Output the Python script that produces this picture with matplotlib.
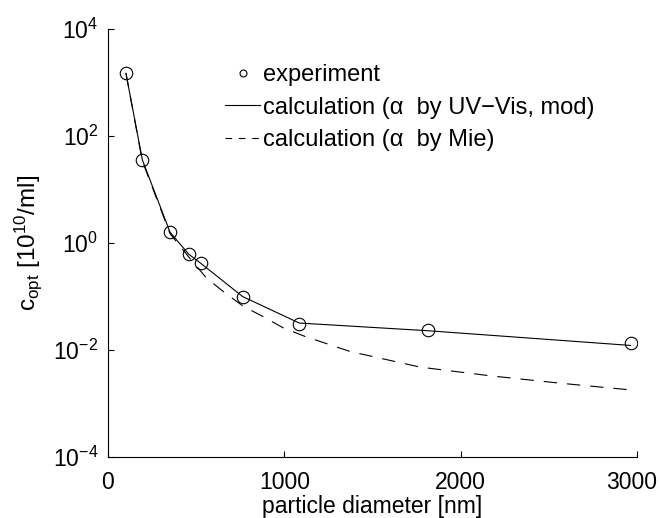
import matplotlib
matplotlib.use("Agg")
import matplotlib.pyplot as plt
import matplotlib.transforms as mtransforms
from matplotlib.lines import Line2D
from matplotlib.ticker import LogLocator, NullLocator

plt.rcParams['font.family'] = ['Liberation Sans', 'DejaVu Sans']
plt.rcParams['mathtext.fontset'] = 'custom'
plt.rcParams['mathtext.rm'] = 'Liberation Sans'
plt.rcParams['mathtext.it'] = 'Liberation Sans:italic'

# experiment
exp_d = [102, 195, 352, 458, 526, 764, 1085, 1813, 2964]
exp_c = [1500, 36, 1.6, 0.63, 0.43, 0.10, 0.031, 0.024, 0.0138]

# calculation, alpha by UV-Vis (mod)
uv_d = [102, 195, 352, 458, 526, 764, 1085, 1813, 2964]
uv_c = [1500, 36, 1.6, 0.62, 0.42, 0.10, 0.032, 0.023, 0.0122]

# calculation, alpha by Mie
mie_d = [102, 195, 352, 458, 560, 664, 767, 881, 994, 1117, 1373, 1770, 2167, 2564, 2961]
mie_c = [1500, 34, 1.5, 0.55, 0.22, 0.117, 0.066, 0.042, 0.026, 0.018, 0.0094, 0.0048, 0.0033, 0.0024, 0.0018]

fig = plt.figure(figsize=(6.6, 5.18), dpi=100)
ax = fig.add_axes([0.1636, 0.1178, 0.8015, 0.8257])

ax.plot(uv_d, uv_c, color="black", lw=0.8)
ax.plot(mie_d, mie_c, color="black", lw=0.8, dashes=(12, 9))
ax.plot(exp_d, exp_c, "o", mfc="none", mec="black", mew=0.8, ms=9)

ax.set_yscale("log")
ax.set_xlim(0, 3000)
ax.set_ylim(1e-4, 1e4)
ax.set_xticks([0, 1000, 2000, 3000])
ax.yaxis.set_major_locator(LogLocator(base=100))
ax.yaxis.set_minor_locator(NullLocator())

for s in ["top", "right"]:
    ax.spines[s].set_visible(False)
for s in ["left", "bottom"]:
    ax.spines[s].set_linewidth(0.8)
ax.tick_params(direction="in", length=4, width=0.8, labelsize=16.5)
ax.tick_params(axis="x", pad=10)
ax.tick_params(axis="y", pad=7)

# keep "3000" inside the figure edge
last = ax.get_xticklabels()[-1]
last.set_transform(last.get_transform() + mtransforms.ScaledTranslation(-4 / 72, 0, fig.dpi_scale_trans))

ax.set_xlabel("particle diameter [nm]", fontsize=16.5, labelpad=1)
ax.set_ylabel(r"c$_{\rm opt}$ [10$^{10}$/ml]", fontsize=17.5, labelpad=6)

handles = [
    Line2D([], [], ls="none", marker="o", mfc="none", mec="black", mew=0.8, ms=5),
    Line2D([], [], color="black", lw=0.8),
    Line2D([], [], color="black", lw=0.8, dashes=(6, 6)),
]
labels = ["experiment",
          "calculation (\u03b1  by UV\u2212Vis, mod)",
          "calculation (\u03b1  by Mie)"]
ax.legend(handles, labels, loc="upper left", bbox_to_anchor=(0.221, 0.918),
          frameon=False, fontsize=17, handlelength=1.5, handletextpad=0.1,
          labelspacing=0.44, borderpad=0, borderaxespad=0)

fig.savefig("out.png", dpi=100)
